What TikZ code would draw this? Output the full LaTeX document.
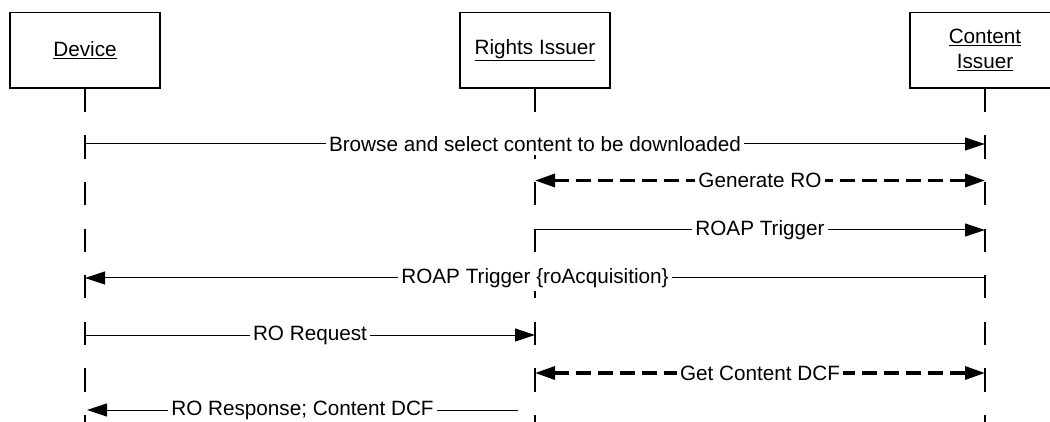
\documentclass[tikz,border=0pt]{standalone}
\usepackage{fontspec}
\setmainfont{Liberation Sans}
\usetikzlibrary{arrows.meta}

\begin{document}
\begin{tikzpicture}[x=1pt,y=-1pt,
    actor/.style={draw,line width=1.5pt,minimum width=150pt,minimum height=75.5pt,align=center,font=\fontsize{20.7}{25}\selectfont},
    lifeline/.style={line width=1.2pt,dash pattern=on 23.3pt off 23.3pt},
    msg/.style={line width=1pt,-{Triangle[length=20pt,width=13pt]}},
    reply/.style={line width=3.3pt,dash pattern=on 15pt off 7pt,{Triangle[length=20pt,width=13pt]}-{Triangle[length=20pt,width=13pt]}},
    lbl/.style={fill=white,inner sep=3pt,font=\fontsize{20.7}{25}\selectfont}]
    % frame
    \clip (0,0) rectangle (1050,422);
    % boxes
    \node[actor] (dev) at (85,50.25) {\underline{Device}};
    \node[actor] (ri) at (535,50.25) {\underline{Rights Issuer}};
    \node[actor] (ci) at (985,50.25) {\underline{Content}\\\underline{Issuer}};
    % lifelines
    \coordinate (bottom) at (0,430);
    \draw[lifeline] (dev.south) -- (dev |- bottom);
    \draw[lifeline] (ri.south) -- (ri |- bottom);
    \draw[lifeline] (ci.south) -- (ci |- bottom);
    % rows of the messages
    \coordinate (r1) at (0,144);
    \coordinate (r2) at (0,180.5);
    \coordinate (r3) at (0,230);
    \coordinate (r4) at (0,278);
    \coordinate (r5) at (0,335);
    \coordinate (r6) at (0,373);
    \coordinate (r7) at (518,410);
    % messages
    \draw[msg] (dev |- r1) -- node[lbl] {Browse and select content to be downloaded} (ci |- r1);
    \draw[reply] (ri |- r2) -- node[lbl] {Generate RO} (ci |- r2);
    \draw[msg] (ri |- r3) -- node[lbl] {ROAP Trigger} (ci |- r3);
    \draw[msg] (ci |- r4) -- node[lbl] {ROAP Trigger \{roAcquisition\}} (dev |- r4);
    \draw[msg] (dev |- r5) -- node[lbl] {RO Request} (ri |- r5);
    \draw[reply] (ri |- r6) -- node[lbl] {Get Content DCF} (ci |- r6);
    \draw[msg] (r7) -- node[lbl] {RO Response; Content DCF} ([xshift=2pt]dev |- r7);
\end{tikzpicture}
\end{document}
